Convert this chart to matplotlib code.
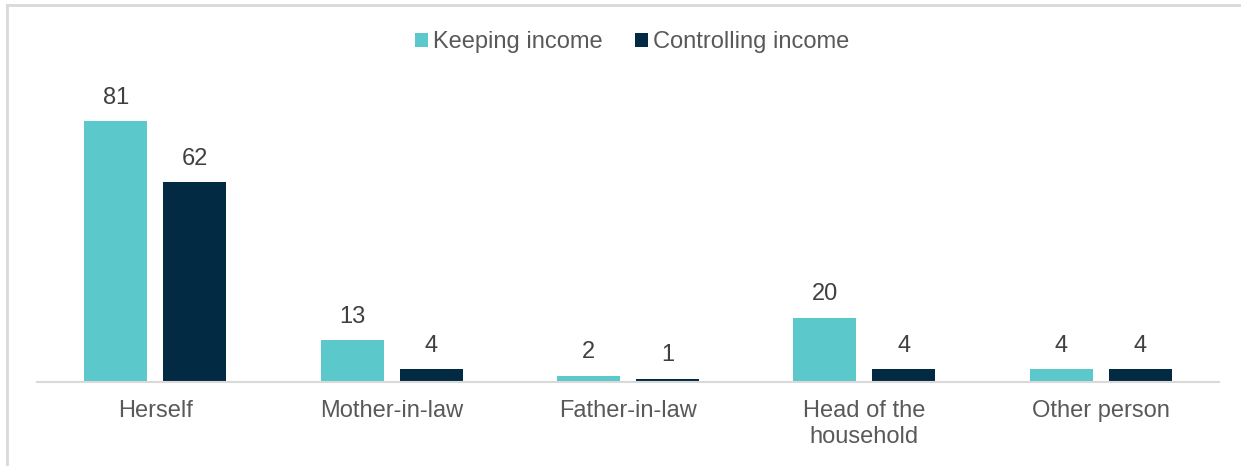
import matplotlib
matplotlib.use("Agg")
import matplotlib.pyplot as plt
import numpy as np
from matplotlib.lines import Line2D

plt.rcParams['font.family'] = ['Liberation Sans', 'DejaVu Sans']

categories = ["Herself", "Mother-in-law", "Father-in-law", "Head of the\nhousehold", "Other person"]
keeping_income = [81, 13, 2, 20, 4]
controlling_income = [62, 4, 1, 4, 4]
series_names = ["Keeping income", "Controlling income"]

TEAL = "#5BC8CC"
NAVY = "#032A43"
TEXT = "#595959"
GRID = "#D9D9D9"

W, H = 1241, 466
fig = plt.figure(figsize=(W / 100, H / 100), dpi=100)

# axes placed in pixel terms: x 37..1219, baseline at y=382, top at y=60
ax = fig.add_axes([37 / W, 1 - 382 / H, (1219 - 37) / W, (382 - 60) / H])

x = np.arange(len(categories))
width = 0.266
offset = 0.167
b1 = ax.bar(x - offset, keeping_income, width, color=TEAL, label=series_names[0])
b2 = ax.bar(x + offset, controlling_income, width, color=NAVY, label=series_names[1])

for bars, vals in ((b1, keeping_income), (b2, controlling_income)):
    for rect, v in zip(bars, vals):
        ax.annotate(f"{v}", (rect.get_x() + rect.get_width() / 2, v),
                    xytext=(0, 9), textcoords="offset points",
                    ha="center", va="bottom", fontsize=17, color="#404040")

ax.set_xlim(-0.5, len(categories) - 0.5)
ax.set_ylim(0, 100)
ax.set_yticks([])
ax.set_xticks(x)
ax.set_xticklabels(categories, fontsize=17, color=TEXT, linespacing=1.25)
ax.tick_params(axis="x", length=0, pad=13)
for s in ("top", "right", "left"):
    ax.spines[s].set_visible(False)
ax.spines["bottom"].set_color(GRID)
ax.spines["bottom"].set_linewidth(1.5)

leg = fig.legend(handles=[b1, b2], loc="center", bbox_to_anchor=(632 / W, 1 - 42 / H),
                 ncol=2, frameon=False, fontsize=17, handlelength=0.55, handleheight=0.55,
                 handletextpad=0.2, columnspacing=1.4)
for t in leg.get_texts():
    t.set_color(TEXT)

# outer frame lines along the top and left edges
fig.add_artist(Line2D([7 / W, 1], [1 - 4.5 / H, 1 - 4.5 / H], color=GRID, lw=2, transform=fig.transFigure))
fig.add_artist(Line2D([7 / W, 7 / W], [0, 1 - 4.5 / H], color=GRID, lw=2, transform=fig.transFigure))

fig.savefig("out.png", dpi=100, facecolor="white")
